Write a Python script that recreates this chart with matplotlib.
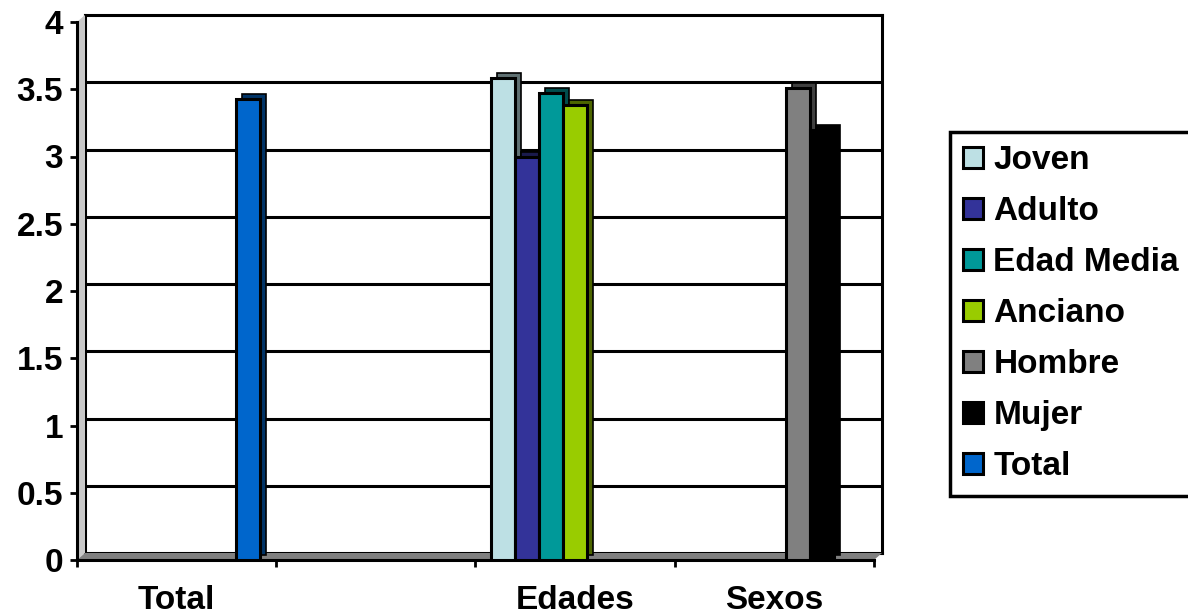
import numpy as np
import matplotlib
matplotlib.use("Agg")
import matplotlib.pyplot as plt
import matplotlib.transforms as mtransforms
from matplotlib.patches import Polygon, Patch
from matplotlib.colors import to_rgb

plt.rcParams['font.family'] = ['Liberation Sans', 'DejaVu Sans']
plt.rcParams['font.weight'] = 'bold'

nan = np.nan
categories = ["Total", "", "Edades", "Sexos"]
series_names = ["Joven", "Adulto", "Edad Media", "Anciano", "Hombre", "Mujer", "Total"]
series_colors = ["#BDE0E4", "#333399", "#009999", "#99CC00", "#808080", "#000000", "#0066CC"]

joven = [nan, nan, 3.58, nan]
adulto = [nan, nan, 3.00, nan]
edad_media = [nan, nan, 3.47, nan]
anciano = [nan, nan, 3.38, nan]
hombre = [nan, nan, nan, 3.51]
mujer = [nan, nan, nan, 3.20]
total = [3.43, nan, nan, nan]
series_values = [joven, adulto, edad_media, anciano, hombre, mujer, total]

W, H = 1188, 614
fig = plt.figure(figsize=(W / 100, H / 100), dpi=100)

# front plane of the plot (pixels, y measured from the top)
x0, x1, y0, y1 = 77, 874, 22, 560
dx, dy = 8, 7      # depth of the walls
bdx, bdy = 6, 5    # depth of the bars


def px_rect(l, r, t, b):
    return [l / W, 1 - b / H, (r - l) / W, (b - t) / H]


def px_pts(pts):
    return [(x / W, 1 - y / H) for x, y in pts]


# back wall with the gridlines
wall = fig.add_axes(px_rect(x0 + dx, x1 + dx, y0 - dy, y1 - dy), zorder=0)
wall.set_xlim(0, 4)
wall.set_ylim(0, 4)
wall.set_yticks(np.arange(0.5, 4, 0.5))
wall.set_xticks([])
wall.tick_params(length=0, labelleft=False)
wall.grid(axis='y', color='black', lw=2.2)
for sp in wall.spines.values():
    sp.set_linewidth(2.2)

# side wall and floor
fig.patches.append(Polygon(px_pts([(x0, y0), (x0 + dx, y0 - dy), (x0 + dx, y1 - dy), (x0, y1)]),
                           closed=True, transform=fig.transFigure, facecolor='#c8c8c8',
                           edgecolor='none', zorder=1))
fig.patches.append(Polygon(px_pts([(x0, y1), (x0 + dx, y1 - dy), (x1 + dx, y1 - dy), (x1, y1)]),
                           closed=True, transform=fig.transFigure, facecolor='#808080',
                           edgecolor='none', zorder=1))

ax = fig.add_axes(px_rect(x0, x1, y0, y1), zorder=2)
ax.set_facecolor('none')
ax.set_xlim(0, 4)
ax.set_ylim(0, 4)
ax.spines['top'].set_visible(False)
ax.spines['right'].set_visible(False)
ax.spines['left'].set_linewidth(2.2)
ax.spines['bottom'].set_linewidth(2.2)

n = len(series_names)
width = 0.12
centers = np.arange(len(categories)) + 0.5
shadow = mtransforms.offset_copy(ax.transData, fig=fig, x=bdx, y=bdy, units='dots')

# darker copy shifted back gives the top and side faces
for j, (vals, col) in enumerate(zip(series_values, series_colors)):
    xs = centers + (j - (n - 1) / 2) * width
    dark = tuple(c * 0.5 for c in to_rgb(col))
    ax.bar(xs, vals, width, color=dark, edgecolor='black', lw=1.2,
           transform=shadow, zorder=2)
for j, (vals, col) in enumerate(zip(series_values, series_colors)):
    xs = centers + (j - (n - 1) / 2) * width
    ax.bar(xs, vals, width, color=col, edgecolor='black', lw=2.2, zorder=3)

ax.set_yticks(np.arange(0, 4.01, 0.5))
ax.set_yticklabels(['%g' % v for v in np.arange(0, 4.01, 0.5)])
ax.set_xticks(np.arange(len(categories) + 1))
ax.set_xticklabels([])
ax.set_xticks(centers, minor=True)
ax.set_xticklabels(categories, minor=True)
ax.tick_params(axis='both', which='major', length=5, width=2, labelsize=24, pad=5)
ax.tick_params(axis='x', which='minor', length=0, labelsize=24, pad=18)

handles = [Patch(facecolor=c, edgecolor='black', lw=2.2, label=s)
           for s, c in zip(series_names, series_colors)]
leg = fig.legend(handles=handles, loc='upper left', bbox_to_anchor=(950 / W, 1 - 132 / H),
                 frameon=True, fancybox=False, edgecolor='black', framealpha=1,
                 fontsize=24, handlelength=0.6, handleheight=0.6, handletextpad=0.3,
                 labelspacing=0.6, borderpad=0.4, borderaxespad=0)
leg.get_frame().set_linewidth(2.5)

fig.savefig('out.png', dpi=100)
